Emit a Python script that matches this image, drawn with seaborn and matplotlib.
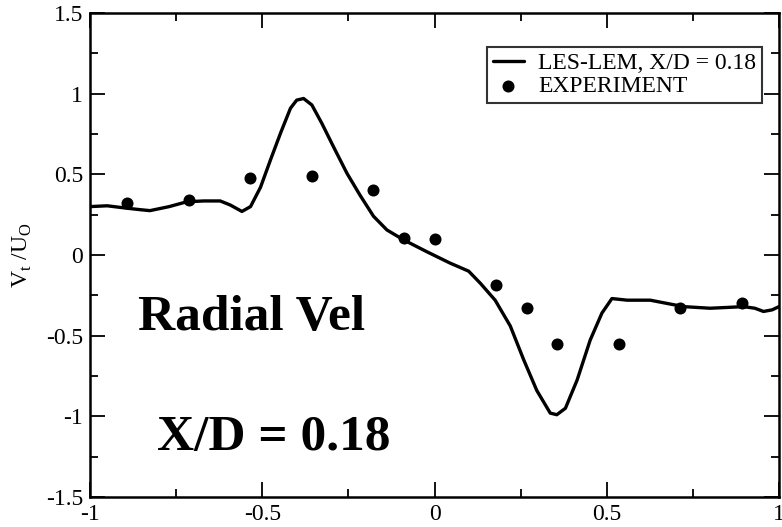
import numpy as np
import pandas as pd
import matplotlib
matplotlib.use("Agg")
import matplotlib.pyplot as plt
from matplotlib.ticker import MultipleLocator, FormatStrFormatter
import seaborn as sns

# ---- data ----
les_x = [-1.0, -0.95, -0.893, -0.85, -0.826, -0.77, -0.719, -0.67, -0.622,
         -0.593, -0.559, -0.534, -0.505, -0.476, -0.447, -0.418, -0.40,
         -0.380, -0.356, -0.327, -0.293, -0.254, -0.216, -0.177, -0.138,
         -0.089, -0.022, 0.045, 0.099, 0.133, 0.176, 0.22, 0.259, 0.297,
         0.336, 0.355, 0.38, 0.414, 0.452, 0.486, 0.515, 0.559, 0.626,
         0.723, 0.80, 0.85, 0.897, 0.93, 0.955, 0.98, 1.0]
les_y = [0.30, 0.305, 0.29, 0.28, 0.275, 0.30, 0.33, 0.335, 0.335,
         0.31, 0.27, 0.30, 0.42, 0.59, 0.755, 0.91, 0.96,
         0.97, 0.93, 0.816, 0.67, 0.506, 0.37, 0.24, 0.155,
         0.093, 0.02, -0.05, -0.10, -0.175, -0.28, -0.44, -0.65, -0.84,
         -0.98, -0.99, -0.95, -0.775, -0.527, -0.36, -0.27, -0.28, -0.28,
         -0.32, -0.33, -0.325, -0.32, -0.33, -0.35, -0.34, -0.32]
exp_x = [-0.893, -0.714, -0.536, -0.357, -0.179, -0.089, 0.0, 0.179, 0.268,
         0.357, 0.536, 0.714, 0.893]
exp_y = [0.32, 0.34, 0.475, 0.49, 0.40, 0.107, 0.097, -0.186, -0.327,
         -0.554, -0.554, -0.327, -0.30]
line_label = "LES-LEM, X/D = 0.18"
exp_label = "EXPERIMENT"
ylabel = r"V$_\mathregular{t}$ /U$_\mathregular{O}$"
note1 = "Radial Vel"
note2 = "X/D = 0.18"

sns.set_style("ticks")
plt.rcParams["font.family"] = ["Liberation Serif", "DejaVu Serif"]
plt.rcParams["mathtext.fontset"] = "custom"
plt.rcParams["mathtext.rm"] = "Liberation Serif"
plt.rcParams["text.color"] = "black"
plt.rcParams["axes.labelcolor"] = "black"
plt.rcParams["xtick.color"] = "black"
plt.rcParams["ytick.color"] = "black"

fig = plt.figure(figsize=(7.82, 5.27), dpi=100)
ax = fig.add_axes([90 / 782, 30 / 527, 689 / 782, 484 / 527])

les_df = pd.DataFrame({"x": les_x, "y": les_y})
exp_df = pd.DataFrame({"x": exp_x, "y": exp_y})

sns.lineplot(data=les_df, x="x", y="y", ax=ax, color="black", linewidth=2.4,
             sort=False, estimator=None, label=line_label)
sns.scatterplot(data=exp_df, x="x", y="y", ax=ax, color="black", s=75,
                edgecolor="black", linewidth=0, label=exp_label, zorder=3)

ax.set_xlim(-1, 1)
ax.set_ylim(-1.5, 1.5)
ax.xaxis.set_major_locator(MultipleLocator(0.5))
ax.xaxis.set_minor_locator(MultipleLocator(0.25))
ax.yaxis.set_major_locator(MultipleLocator(0.5))
ax.yaxis.set_minor_locator(MultipleLocator(0.25))
ax.xaxis.set_major_formatter(FormatStrFormatter("%g"))
ax.yaxis.set_major_formatter(FormatStrFormatter("%g"))

ax.tick_params(which="both", direction="in", top=True, right=True,
               width=1.3, colors="black", labelsize=17)
ax.tick_params(which="major", length=11)
ax.tick_params(which="minor", length=5.5)
ax.tick_params(axis="x", which="major", pad=5)
ax.tick_params(axis="y", which="major", pad=5)
for sp in ax.spines.values():
    sp.set_linewidth(1.8)
    sp.set_color("black")

ax.set_xlabel("")
ax.set_ylabel(ylabel, fontsize=17, color="black")
ax.yaxis.set_label_coords(-0.082, 0.5)

leg = ax.legend(loc="upper right", bbox_to_anchor=(0.975, 0.930),
                borderaxespad=0, fontsize=17, frameon=True, fancybox=False,
                handlelength=1.3, handletextpad=0.6, borderpad=0.25,
                labelspacing=0.05, markerscale=1.0)
leg.get_frame().set_edgecolor("black")
leg.get_frame().set_linewidth(1.5)
for t in leg.get_texts():
    t.set_color("black")

ax.text(0.0697, 0.345, note1, transform=ax.transAxes, fontsize=37,
        fontweight="bold", ha="left", va="baseline", color="black")
ax.text(0.0972, 0.097, note2, transform=ax.transAxes, fontsize=37,
        fontweight="bold", ha="left", va="baseline", color="black")

fig.savefig("out.png", dpi=100)
